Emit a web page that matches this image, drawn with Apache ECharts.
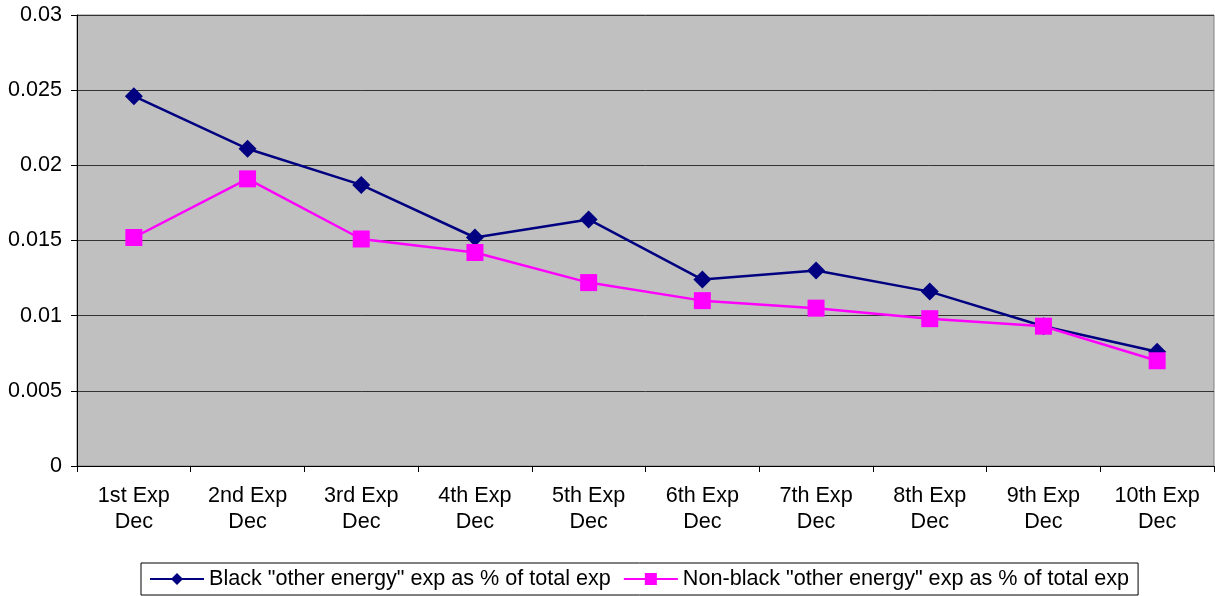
<!DOCTYPE html>
<html>
<head>
<meta charset="utf-8">
<script src="https://cdn.jsdelivr.net/npm/echarts@6/dist/echarts.min.js"></script>
<style>html,body{margin:0;padding:0;background:#fff;}#c{width:1215px;height:596px;}</style>
</head>
<body>
<div id="c"></div>
<script>
var categories = ['1st Exp\nDec','2nd Exp\nDec','3rd Exp\nDec','4th Exp\nDec','5th Exp\nDec','6th Exp\nDec','7th Exp\nDec','8th Exp\nDec','9th Exp\nDec','10th Exp\nDec'];
var blackValues = [0.0246, 0.0211, 0.0187, 0.0152, 0.0164, 0.0124, 0.0130, 0.0116, 0.0093, 0.0076];
var nonBlackValues = [0.0152, 0.0191, 0.0151, 0.0142, 0.0122, 0.0110, 0.0105, 0.0098, 0.0093, 0.0070];
var yTicks = {min: 0, max: 0.03, interval: 0.005};
var seriesNames = ['Black "other energy" exp as % of total exp', 'Non-black "other energy" exp as % of total exp'];

var chart = echarts.init(document.getElementById('c'));
var font = 'Liberation Sans, Arial, sans-serif';
var fs = 21.6;
chart.setOption({
  animation: false,
  backgroundColor: '#fff',
  textStyle: {fontFamily: font},
  grid: {left: 77, right: 1, top: 15, bottom: 130, show: true, backgroundColor: '#c0c0c0', borderColor: '#808080', borderWidth: 1},
  legend: {
    left: 141, top: 563,
    backgroundColor: '#fff', borderColor: '#000', borderWidth: 1,
    padding: [5, 9, 5, 8],
    itemGap: 12, itemWidth: 54, itemHeight: 15,
    textStyle: {fontFamily: font, fontSize: fs, color: '#000'},
    data: seriesNames
  },
  xAxis: {
    type: 'category', data: categories, boundaryGap: true,
    axisLine: {lineStyle: {color: '#000', width: 1}},
    axisTick: {show: true, length: 6, lineStyle: {color: '#000'}},
    axisLabel: {fontFamily: font, fontSize: fs, color: '#000', lineHeight: 26, margin: 17, interval: 0},
    splitLine: {show: false}
  },
  yAxis: {
    type: 'value', min: yTicks.min, max: yTicks.max, interval: yTicks.interval,
    axisLine: {show: true, lineStyle: {color: '#000', width: 1}},
    axisTick: {show: true, length: 6, lineStyle: {color: '#000'}},
    axisLabel: {fontFamily: font, fontSize: fs, color: '#000', margin: 15},
    splitLine: {show: true, lineStyle: {color: '#333', width: 1}}
  },
  series: [
    {name: seriesNames[0], type: 'line', data: blackValues, color: '#000080',
     symbol: 'diamond', symbolSize: 18, lineStyle: {width: 2.5, color: '#000080'}, itemStyle: {color: '#000080'}},
    {name: seriesNames[1], type: 'line', data: nonBlackValues, color: '#ff00ff',
     symbol: 'rect', symbolSize: 17, lineStyle: {width: 2.5, color: '#ff00ff'}, itemStyle: {color: '#ff00ff'}}
  ]
});
</script>
</body>
</html>
